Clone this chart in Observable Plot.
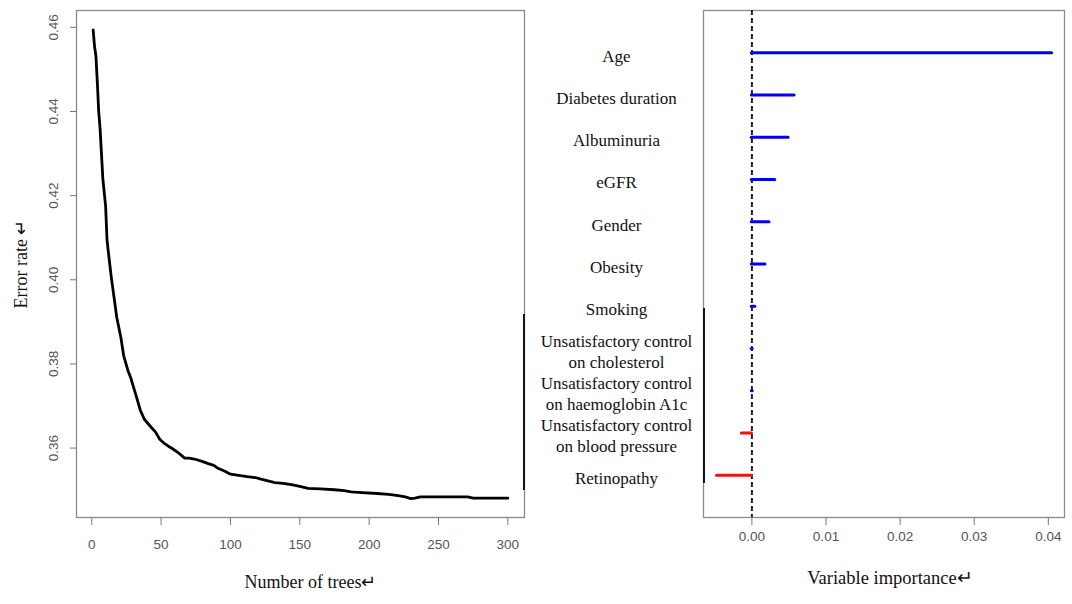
<!DOCTYPE html>
<html><head><meta charset="utf-8">
<script src="https://cdn.jsdelivr.net/npm/d3@7"></script>
<script src="https://cdn.jsdelivr.net/npm/@observablehq/plot@0.6"></script>
<style>
body{margin:0;background:#fff;width:1072px;height:604px;overflow:hidden;position:relative;}
#left{position:absolute;left:0;top:0}
#right{position:absolute;left:540px;top:0}
.edge{position:absolute;background:#151515;width:2.2px}
</style></head><body>
<div id="left"></div><div id="right"></div>
<div class="edge" style="left:523px;top:314px;height:176px"></div>
<div class="edge" style="left:702.5px;top:308px;height:175px"></div>
<script>
// Left panel: OOB error rate vs number of trees
const trees = [1,2,3,4,5,6,7,8,10,11,12,14,16,18,21,23,26,28,32,35,38,43,46,49,52,55,58,62,67,70,74,79,84,88,91,96,100,106,112,118,122,127,132,138,144,150,156,165,175,182,187,195,206,214,221,226,230,233,237,245,255,265,271,275,285,300];
const errorRate = [0.4594,0.4555,0.4532,0.4470,0.4400,0.4360,0.4300,0.4240,0.4175,0.4095,0.4065,0.4008,0.3960,0.3911,0.3863,0.3820,0.3785,0.3768,0.3724,0.3690,0.3668,0.3649,0.3638,0.3621,0.3612,0.3605,0.3599,0.3590,0.3576,0.3576,0.3574,0.3569,0.3563,0.3559,0.3552,0.3545,0.3538,0.3535,0.3532,0.3530,0.3526,0.3522,0.3518,0.3516,0.3513,0.3509,0.3504,0.3503,0.3501,0.3499,0.3496,0.3494,0.3492,0.3490,0.3487,0.3484,0.3480,0.3481,0.3484,0.3484,0.3484,0.3484,0.3484,0.3481,0.3481,0.3481];
const treeTicks = [0,50,100,150,200,250,300];
const errorTicks = [0.36,0.38,0.40,0.42,0.44,0.46];

// Right panel: variable importance
const variables = ["Age","Diabetes duration","Albuminuria","eGFR","Gender","Obesity","Smoking",
  "Unsatisfactory control\non cholesterol","Unsatisfactory control\non haemoglobin A1c","Unsatisfactory control\non blood pressure","Retinopathy"];
const importance = [0.0405,0.00575,0.00494,0.00314,0.00237,0.00182,0.00045,0.0001,0.0001,-0.00135,-0.0047];
const importanceTicks = [0,0.01,0.02,0.03,0.04];

const serif = "'Liberation Serif','Times New Roman',serif";
const sans = "'Liberation Sans',Arial,sans-serif";
const f2 = d3.format(".2f");

const errData = trees.map((t,i)=>({trees:t, error:errorRate[i]}));
const left = Plot.plot({
  width:540, height:604, marginLeft:76, marginRight:16, marginTop:10, marginBottom:87,
  style:{background:"transparent", overflow:"visible"},
  x:{domain:[-11,312]}, y:{domain:[0.3435,0.464]},
  marks:[
    Plot.frame({stroke:"#8a8a8a", strokeWidth:1.3}),
    Plot.axisX({ticks:treeTicks, tickSize:8, tickPadding:14, stroke:"#777", fill:"#555", fontSize:13.5, fontFamily:sans, label:null}),
    Plot.axisY({ticks:errorTicks, tickSize:6, stroke:"#777", tickFormat:()=>"", label:null}),
    Plot.text(errorTicks, {y:d=>d, frameAnchor:"left", dx:-23, rotate:-90, text:f2, textAnchor:"middle", fontSize:13.5, fill:"#555", fontFamily:sans}),
    Plot.line(errData, {x:"trees", y:"error", stroke:"#000", strokeWidth:2.8}),
    Plot.text(["Error rate \u21B5"], {frameAnchor:"left", dx:-55, rotate:-90, textAnchor:"middle", fontSize:18, fontFamily:serif, fill:"#111"}),
    Plot.text(["Number of trees\u21B5"], {frameAnchor:"bottom", dy:70, dx:10, textAnchor:"middle", fontSize:18, fontFamily:serif, fill:"#111"})
  ]
});
document.getElementById("left").append(left);

const impData = variables.map((v,i)=>({label:v, pos:i+1, value:importance[i], col: importance[i] >= 0 ? "#0000e6" : "#ee1111"}));
const right = Plot.plot({
  width:532, height:604, marginLeft:163, marginRight:8, marginTop:10, marginBottom:87,
  style:{background:"transparent", overflow:"visible"},
  x:{domain:[-0.00653,0.04218]}, y:{domain:[0,12], reverse:true, axis:null},
  color:{type:"identity"},
  marks:[
    Plot.frame({stroke:"#8a8a8a", strokeWidth:1.3}),
    Plot.axisX({ticks:importanceTicks, tickSize:8, tickPadding:6, tickFormat:f2, stroke:"#777", fill:"#555", fontSize:13.5, fontFamily:sans, label:null}),
    Plot.ruleX([0], {stroke:"#222", strokeWidth:2, strokeDasharray:"5,3"}),
    Plot.ruleY(impData, {y:"pos", x1:0, x2:"value", stroke:"col", strokeWidth:3.2, strokeLinecap:"round"}),
    Plot.text(impData, {y:"pos", text:"label", frameAnchor:"left", dx:-87, dy:2, textAnchor:"middle", fontSize:17, fontFamily:serif, fill:"#111", lineHeight:1.25}),
    Plot.text(["Variable importance\u21B5"], {frameAnchor:"bottom", dy:66, dx:6, textAnchor:"middle", fontSize:18.5, fontFamily:serif, fill:"#111"})
  ]
});
document.getElementById("right").append(right);
</script>
</body></html>
